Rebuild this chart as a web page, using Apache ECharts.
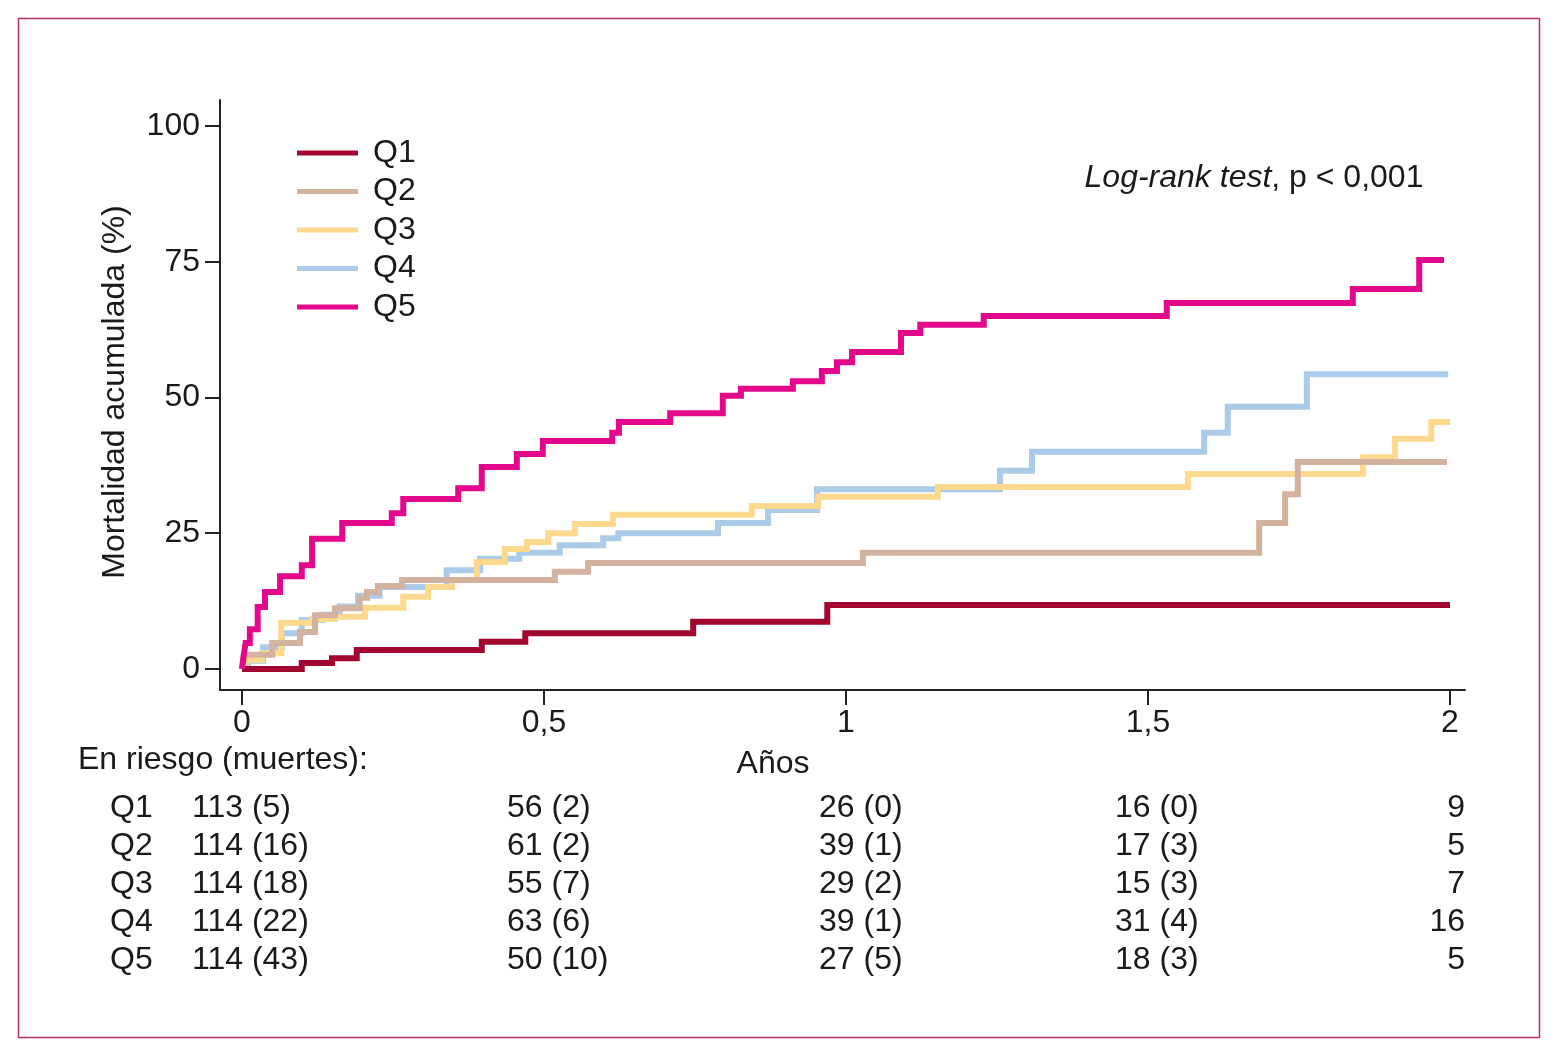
<!DOCTYPE html>
<html>
<head>
<meta charset="utf-8">
<script src="https://cdn.jsdelivr.net/npm/echarts@6/dist/echarts.min.js"></script>
<style>html,body{margin:0;padding:0;background:#fff}#c{width:1566px;height:1062px}</style>
</head>
<body>
<div id="c"></div>
<script>
// ---- data ----
const seriesNames = ['Q1', 'Q2', 'Q3', 'Q4', 'Q5'];
const q1T = [0, 0.099, 0.149, 0.190, 0.397, 0.469, 0.747, 0.969, 2.0];
const q1V = [0, 1.1, 2.0, 3.5, 5.0, 6.6, 8.7, 11.8, 11.8];
const q2T = [0, 0.003, 0.05, 0.096, 0.121, 0.154, 0.195, 0.207, 0.225, 0.265, 0.518, 0.573, 1.028, 1.684, 1.727, 1.748, 1.995];
const q2V = [0, 2.6, 4.8, 6.8, 9.9, 11.2, 13.1, 14.2, 15.3, 16.4, 17.9, 19.5, 21.4, 26.9, 32.2, 38.1, 38.1];
const q3T = [0, 0.007, 0.033, 0.065, 0.116, 0.154, 0.204, 0.267, 0.308, 0.348, 0.389, 0.435, 0.472, 0.507, 0.551, 0.614, 0.844, 0.954, 1.152, 1.566, 1.856, 1.909, 1.969, 2.0];
const q3V = [0, 1.7, 2.9, 8.5, 9.2, 9.6, 11.3, 13.3, 15.1, 16.4, 19.7, 22.1, 23.4, 25.0, 26.7, 28.4, 30.0, 31.7, 33.5, 35.9, 39.0, 42.4, 45.5, 45.5];
const q4T = [0, 0.01, 0.035, 0.066, 0.099, 0.132, 0.162, 0.192, 0.228, 0.339, 0.394, 0.459, 0.526, 0.598, 0.623, 0.788, 0.871, 0.952, 1.255, 1.308, 1.593, 1.632, 1.763, 1.997];
const q4V = [0, 1.5, 4.0, 6.6, 9.0, 10.0, 11.5, 13.5, 15.1, 18.2, 20.3, 21.4, 22.8, 24.1, 25.0, 26.9, 29.3, 33.1, 36.5, 40.0, 43.5, 48.3, 54.3, 54.3];
const q5T = [0, 0.003, 0.006, 0.013, 0.026, 0.038, 0.063, 0.099, 0.116, 0.166, 0.248, 0.267, 0.358, 0.397, 0.455, 0.498, 0.613, 0.624, 0.709, 0.796, 0.826, 0.912, 0.960, 0.985, 1.010, 1.091, 1.123, 1.228, 1.531, 1.839, 1.949, 1.99];
const q5V = [0, 2.6, 4.8, 7.3, 11.4, 14.2, 17.1, 19.1, 24.0, 26.9, 28.7, 31.3, 33.3, 37.2, 39.6, 42.0, 43.5, 45.5, 47.1, 50.3, 51.6, 53.0, 54.9, 56.5, 58.4, 61.9, 63.4, 65.0, 67.4, 70.0, 75.3, 75.3];

const xTicks = [0, 0.5, 1, 1.5, 2];
const xTickLabels = ['0', '0,5', '1', '1,5', '2'];
const yTicks = [0, 25, 50, 75, 100];
const yTickLabels = ['0', '25', '50', '75', '100'];
// axis extents (the axis lines stand a little apart from the data region)
const xRange = [-0.0364, 2.0248];
const yRange = [-3.87, 104.79];

const riskTimes = [0, 0.5, 1, 1.5, 2];
const atRiskQ1 = [113, 56, 26, 16, 9];
const atRiskQ2 = [114, 61, 39, 17, 5];
const atRiskQ3 = [114, 55, 29, 15, 7];
const atRiskQ4 = [114, 63, 39, 31, 16];
const atRiskQ5 = [114, 50, 27, 18, 5];
const deathsQ1 = [5, 2, 0, 0];
const deathsQ2 = [16, 2, 1, 3];
const deathsQ3 = [18, 7, 2, 3];
const deathsQ4 = [22, 6, 1, 4];
const deathsQ5 = [43, 10, 5, 3];

// ---- styling ----
const FONT = "'Liberation Sans', Arial, sans-serif";
const FS = 32;
const TXT = '#1a1a1a';
const AX = '#222';
const colors = ['#a2072f', '#d3b39f', '#fdd98e', '#aacbe9', '#e3078b'];
const zOrder = [5, 4, 3, 2, 6];

const curves = [[q1T, q1V], [q2T, q2V], [q3T, q3V], [q4T, q4V], [q5T, q5V]];
const atRisk = [atRiskQ1, atRiskQ2, atRiskQ3, atRiskQ4, atRiskQ5];
const deaths = [deathsQ1, deathsQ2, deathsQ3, deathsQ4, deathsQ5];

const lineSeries = curves.map((c, i) => ({
  name: seriesNames[i],
  type: 'line',
  step: 'end',
  xAxisIndex: 0, yAxisIndex: 0,
  showSymbol: false,
  symbol: 'none',
  z: zOrder[i],
  color: colors[i],
  lineStyle: { color: colors[i], width: 6, cap: 'butt', join: 'miter' },
  itemStyle: { color: colors[i] },
  data: c[0].map((t, k) => [t, c[1][k]])
}));

const colOffsets = [-50, -37, -27, -33, 15];
const tableSeries = riskTimes.map((t, j) => {
  const last = j === riskTimes.length - 1;
  return {
    type: 'scatter',
    xAxisIndex: 1, yAxisIndex: 1,
    symbolSize: 0,
    silent: true,
    itemStyle: { opacity: 1 },
    label: {
      show: true,
      position: last ? 'left' : 'right',
      distance: 0,
      offset: [colOffsets[j], 0],
      color: TXT, fontFamily: FONT, fontSize: FS, opacity: 1,
      formatter: p => p.value[2]
    },
    data: seriesNames.map((n, i) => [t, i, last ? String(atRisk[i][j]) : atRisk[i][j] + ' (' + deaths[i][j] + ')'])
  };
});

const option = {
  animation: false,
  backgroundColor: '#fff',
  textStyle: { fontFamily: FONT },
  grid: [
    { left: 220, right: 101, top: 100, bottom: 372 },
    { left: 220, right: 101, top: 789, height: 190 }
  ],
  xAxis: [
    {
      gridIndex: 0, type: 'value', min: xRange[0], max: xRange[1],
      axisLine: { show: true, onZero: false, lineStyle: { color: AX, width: 2 } },
      axisTick: { show: true, length: 15, customValues: xTicks, lineStyle: { color: AX, width: 2 } },
      axisLabel: { margin: 17, color: TXT, fontSize: FS, fontFamily: FONT, customValues: xTicks,
        formatter: v => xTickLabels[xTicks.indexOf(v)] },
      splitLine: { show: false }
    },
    { gridIndex: 1, type: 'value', min: xRange[0], max: xRange[1], show: false }
  ],
  yAxis: [
    {
      gridIndex: 0, type: 'value', min: yRange[0], max: yRange[1],
      axisLine: { show: true, onZero: false, lineStyle: { color: AX, width: 2 } },
      axisTick: { show: true, length: 15, customValues: yTicks, lineStyle: { color: AX, width: 2 } },
      axisLabel: { margin: 20, color: TXT, fontSize: FS, fontFamily: FONT, customValues: yTicks,
        formatter: v => yTickLabels[yTicks.indexOf(v)] },
      splitLine: { show: false }
    },
    {
      gridIndex: 1, type: 'category', data: seriesNames, inverse: true,
      axisLine: { show: false }, axisTick: { show: false }, splitLine: { show: false },
      axisLabel: { interval: 0, margin: 110, align: 'left', color: TXT, fontSize: FS, fontFamily: FONT }
    }
  ],
  legend: {
    data: seriesNames,
    orient: 'vertical',
    left: 297, top: 134, padding: 0,
    itemWidth: 61, itemHeight: 5, itemGap: 0.5,
    icon: 'rect',
    itemStyle: { borderWidth: 0 },
    textStyle: { color: TXT, fontSize: FS, fontFamily: FONT, lineHeight: 38, padding: [0, 0, 0, 10] }
  },
  graphic: [
    { type: 'rect', shape: { x: 18.5, y: 18.5, width: 1521, height: 1019 },
      style: { fill: 'none', stroke: '#b3325e', lineWidth: 1.5 }, silent: true },
    { type: 'text', x: 115, y: 392, rotation: Math.PI / 2,
      style: { text: 'Mortalidad acumulada (%)', fill: TXT, fontSize: FS, fontFamily: FONT, align: 'center', verticalAlign: 'middle' } },
    { type: 'text', x: 78, y: 760,
      style: { text: 'En riesgo (muertes):', fill: TXT, fontSize: FS, fontFamily: FONT, align: 'left', verticalAlign: 'middle' } },
    { type: 'text', x: 773, y: 764,
      style: { text: 'Años', fill: TXT, fontSize: FS, fontFamily: FONT, align: 'center', verticalAlign: 'middle' } },
    { type: 'text', x: 1254, y: 178,
      style: { text: '{i|Log-rank test}, p < 0,001', fill: TXT, fontSize: FS, fontFamily: FONT, align: 'center', verticalAlign: 'middle',
        rich: { i: { fontStyle: 'italic', fontSize: FS, fontFamily: FONT, fill: TXT } } } }
  ],
  series: lineSeries.concat(tableSeries)
};

const chart = echarts.init(document.getElementById('c'), null, { renderer: 'canvas' });
chart.setOption(option);
</script>
</body>
</html>
